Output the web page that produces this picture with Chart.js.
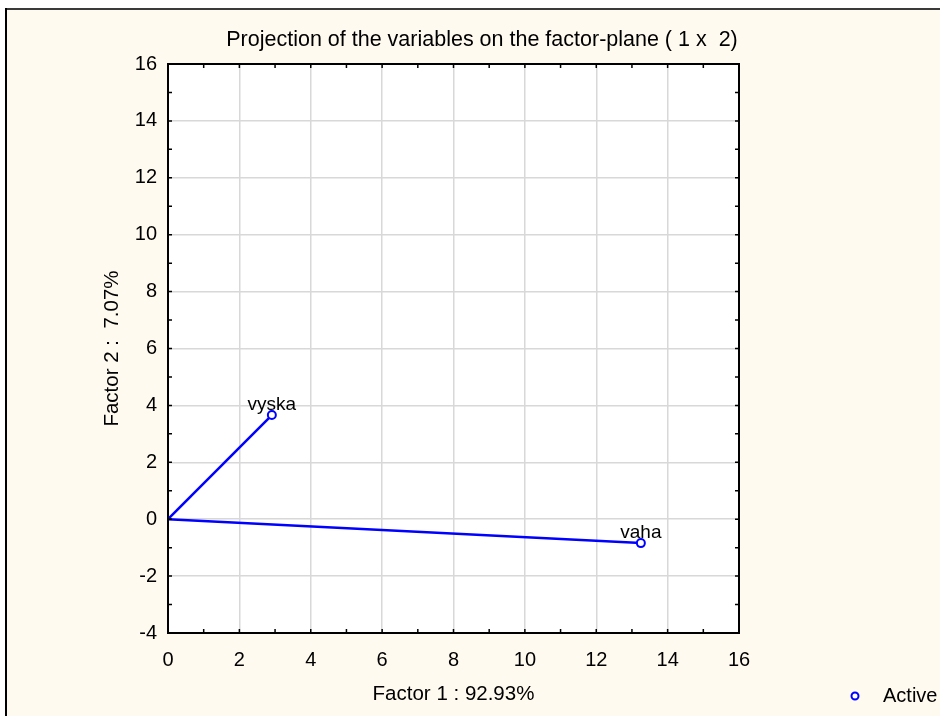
<!DOCTYPE html>
<html>
<head>
<meta charset="utf-8">
<script src="https://cdn.jsdelivr.net/npm/chart.js@4"></script>
<style>
html,body{margin:0;padding:0;background:#fff;}
canvas{display:block;}
</style>
</head>
<body>
<canvas id="c" width="940" height="716"></canvas>
<script>
const variableNames = ['vyska', 'vaha'];
const factor1 = [2.91, 13.25];
const factor2 = [3.66, -0.84];
const xTicks = [0, 2, 4, 6, 8, 10, 12, 14, 16];
const yTicks = [-4, -2, 0, 2, 4, 6, 8, 10, 12, 14, 16];
const titleText = 'Projection of the variables on the factor-plane ( 1 x  2)';
const xTitle = 'Factor 1 : 92.93%';
const yTitle = 'Factor 2 :  7.07%';
const legendLabel = 'Active';

const BLUE = '#0000ff';
const FONT = '"Liberation Sans", Arial, sans-serif';

const datasets = variableNames.map((name, i) => ({
  label: name,
  data: [{x: 0, y: 0}, {x: factor1[i], y: factor2[i]}],
  showLine: true,
  borderColor: BLUE,
  borderWidth: 2.5,
  pointRadius: [0, 4],
  pointBorderColor: BLUE,
  pointBackgroundColor: '#ffffff',
  pointBorderWidth: 2,
  clip: false
}));

const deco = {
  id: 'deco',
  beforeDraw(chart) {
    const ctx = chart.ctx, a = chart.chartArea;
    ctx.save();
    ctx.fillStyle = '#ffffff';
    ctx.fillRect(0, 0, chart.width, chart.height);
    ctx.fillStyle = '#fffaef';
    ctx.fillRect(7, 10, chart.width - 7, chart.height - 10);
    ctx.fillStyle = '#3a3a3a';
    ctx.fillRect(5, 8, chart.width - 5, 2);
    ctx.fillStyle = '#000000';
    ctx.fillRect(5, 8, 2, chart.height - 8);
    ctx.fillStyle = '#ffffff';
    ctx.fillRect(a.left, a.top, a.right - a.left, a.bottom - a.top);
    ctx.restore();
  },
  afterDraw(chart) {
    const ctx = chart.ctx, a = chart.chartArea;
    const xs = chart.scales.x, ys = chart.scales.y;
    ctx.save();
    ctx.strokeStyle = '#000';
    ctx.lineWidth = 2;
    ctx.strokeRect(a.left, a.top, a.right - a.left, a.bottom - a.top);
    ctx.lineWidth = 1.5;
    ctx.beginPath();
    for (let v = xTicks[0]; v <= xTicks[xTicks.length - 1]; v += 1) {
      const px = xs.getPixelForValue(v);
      ctx.moveTo(px, a.bottom); ctx.lineTo(px, a.bottom - 4);
      ctx.moveTo(px, a.top); ctx.lineTo(px, a.top + 4);
    }
    for (let v = yTicks[0]; v <= yTicks[yTicks.length - 1]; v += 1) {
      const py = ys.getPixelForValue(v);
      ctx.moveTo(a.left, py); ctx.lineTo(a.left + 4, py);
      ctx.moveTo(a.right, py); ctx.lineTo(a.right - 4, py);
    }
    ctx.stroke();
    ctx.fillStyle = '#000';
    ctx.font = '19px ' + FONT;
    ctx.textAlign = 'center';
    ctx.textBaseline = 'alphabetic';
    variableNames.forEach((n, i) => {
      ctx.fillText(n, xs.getPixelForValue(factor1[i]), ys.getPixelForValue(factor2[i]) - 5);
    });
    ctx.textBaseline = 'middle';
    ctx.font = '21.5px ' + FONT;
    ctx.fillText(titleText, 482, 40);
    ctx.font = '20.5px ' + FONT;
    ctx.fillText(xTitle, (a.left + a.right) / 2, 694);
    ctx.save();
    ctx.translate(112, (a.top + a.bottom) / 2);
    ctx.rotate(-Math.PI / 2);
    ctx.fillText(yTitle, 0, 0);
    ctx.restore();
    ctx.beginPath();
    ctx.arc(855, 696, 3.5, 0, Math.PI * 2);
    ctx.fillStyle = '#fff';
    ctx.fill();
    ctx.strokeStyle = BLUE;
    ctx.lineWidth = 2;
    ctx.stroke();
    ctx.fillStyle = '#000';
    ctx.textAlign = 'left';
    ctx.font = '20px ' + FONT;
    ctx.fillText(legendLabel, 883, 696);
    ctx.restore();
  }
};

new Chart(document.getElementById('c'), {
  type: 'scatter',
  data: { datasets },
  options: {
    responsive: false,
    animation: false,
    devicePixelRatio: 1,
    layout: { padding: { left: 0, top: 64, right: 201, bottom: 0 } },
    plugins: { legend: { display: false }, title: { display: false }, tooltip: { enabled: false } },
    scales: {
      x: {
        type: 'linear',
        min: xTicks[0], max: xTicks[xTicks.length - 1],
        afterFit(s) { s.height = 83; },
        afterBuildTicks(s) { s.ticks = xTicks.map(v => ({ value: v })); },
        ticks: { color: '#000', font: { family: FONT, size: 20 }, padding: 15, maxRotation: 0, autoSkip: false },
        grid: { color: '#d8d8d8', lineWidth: 1.5, drawTicks: false },
        border: { display: false }
      },
      y: {
        type: 'linear',
        min: yTicks[0], max: yTicks[yTicks.length - 1],
        afterFit(s) { s.width = 168; },
        afterBuildTicks(s) { s.ticks = yTicks.map(v => ({ value: v })); },
        ticks: { color: '#000', font: { family: FONT, size: 20 }, padding: 11, autoSkip: false },
        grid: { color: '#d8d8d8', lineWidth: 1.5, drawTicks: false },
        border: { display: false }
      }
    }
  },
  plugins: [deco]
});
</script>
</body>
</html>
